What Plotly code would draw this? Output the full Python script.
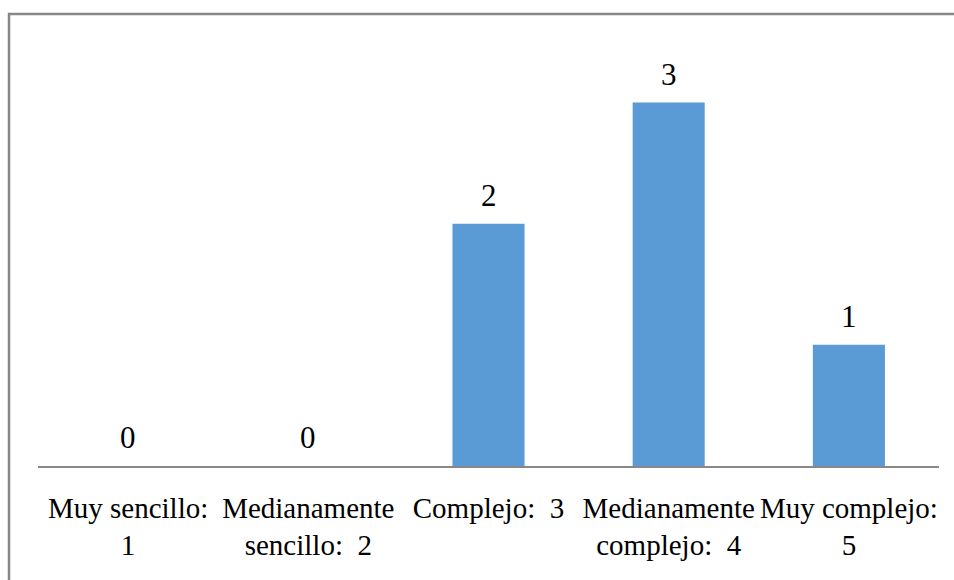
import plotly.graph_objects as go

categories = [
    "Muy sencillo:<br>1",
    "Medianamente<br>sencillo:\u00a0 2",
    "Complejo:\u00a0 3",
    "Medianamente<br>complejo:\u00a0 4",
    "Muy complejo:<br>5",
]
values = [0, 0, 2, 3, 1]

BAR_COLOR = "#5B9BD5"
FONT = "Liberation Serif"

fig = go.Figure(
    go.Bar(
        x=categories,
        y=values,
        marker=dict(color=BAR_COLOR, line=dict(width=0)),
        hoverinfo="skip",
    )
)

# value labels above each bar
for cat, val in zip(categories, values):
    fig.add_annotation(
        x=cat, y=val, xref="x", yref="y",
        text=str(val), showarrow=False,
        yanchor="bottom", yshift=9,
        font=dict(family=FONT, size=31, color="#000000"),
    )

# plot area: x 38..939 px, y 42..466 px
L, R, T, B = 38, 939, 42, 466
W, H = R - L, B - T

def px_x(p):
    return (p - L) / W

def px_y(p):
    return (B - p) / H

fig.add_shape(
    type="rect", xref="paper", yref="paper",
    x0=px_x(9), x1=px_x(975), y0=px_y(14), y1=px_y(620),
    line=dict(color="#878787", width=2.5), fillcolor="rgba(0,0,0,0)",
    layer="above",
)

fig.update_layout(
    width=954, height=580,
    margin=dict(l=L, r=954 - R, t=T, b=580 - B),
    paper_bgcolor="white", plot_bgcolor="white",
    bargap=0.6,
    showlegend=False,
    font=dict(family=FONT, size=29, color="#000000"),
    xaxis=dict(
        showline=True, linecolor="#888888", linewidth=1.5,
        showgrid=False, zeroline=False,
        ticks="outside", ticklen=15, tickcolor="rgba(0,0,0,0)",
        tickfont=dict(family=FONT, size=29, color="#000000"),
        fixedrange=True,
    ),
    yaxis=dict(
        range=[0, 3.5], visible=False, showgrid=False, zeroline=False,
        fixedrange=True,
    ),
)

fig.write_html("out.html")
